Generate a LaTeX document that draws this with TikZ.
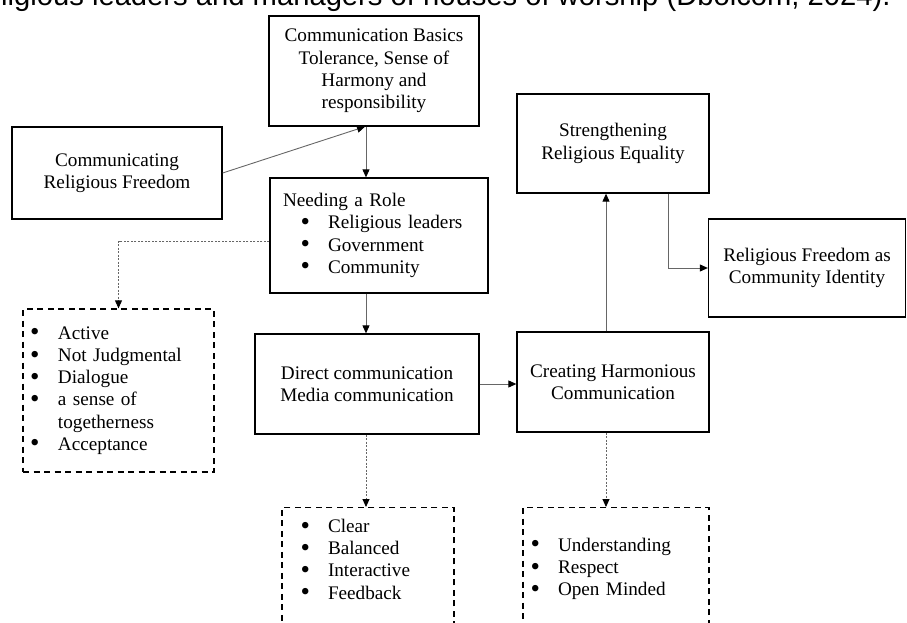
\documentclass[tikz,border=0pt]{standalone}
\usepackage{fontspec}
\usepackage{graphicx}
\setmainfont{Liberation Serif}
\newfontfamily\bodysans{Liberation Sans}
\usetikzlibrary{arrows.meta,calc}

\tikzset{
  box/.style={draw, line width=1.3pt, align=center, inner sep=0pt},
  listbox/.style={draw, line width=1.3pt, dash pattern=on 6pt off 4.5pt, align=left, inner ysep=11.5pt},
  link/.style={draw=black!60, line width=0.9pt, -{Triangle[length=8pt,width=7pt,color=black]}},
  dotlink/.style={link, dash pattern=on 2pt off 1.5pt},
}
\newcommand{\dotitem}[1]{\makebox[#1][l]{\smash{\raisebox{-1.6pt}{\scalebox{1.4}{\textbullet}}}}}

\begin{document}
\begin{tikzpicture}[x=1pt, y=-1pt, font=\fontsize{19.2}{22.2}\selectfont]
  \useasboundingbox (0,0) rectangle (907,623);
  \clip (0,0) rectangle (907,623);
  % ---- running text above the figure, cut by the page edge ----
  \node[font=\bodysans\fontsize{29.2}{34}\selectfont, anchor=base west, inner sep=0pt] (caption) at (1,6)
    {ligious leaders and managers of houses of worship (Dbolcom, 2024).};
  % ---- left column: basics, freedom, role ----
  \node[box, minimum width=210pt, minimum height=110pt] (basics) at (374,71)
    {Communication Basics\\Tolerance, Sense of\\Harmony and\\responsibility};
  \node[box, minimum width=210pt, minimum height=92pt] (freedom) at (117,173)
    {Communicating\\Religious Freedom};
  \node[box, align=left, text width=192pt, inner xsep=13pt, minimum height=115pt] (role) at (379,235.5)
    {Needing a Role\\
     \hspace*{17.6pt}\dotitem{27.4pt}Religious leaders\\
     \hspace*{17.6pt}\dotitem{27.4pt}Government\\
     \hspace*{17.6pt}\dotitem{27.4pt}Community};
  \node[box, minimum width=224pt, minimum height=100pt] (direct) at (367,384)
    {Direct communication\\Media communication};
  % ---- right column: harmony, equality, identity ----
  \node[box, minimum width=192pt, minimum height=100pt] (creating) at (613,382)
    {Creating Harmonious\\Communication};
  \node[box, minimum width=192pt, minimum height=99pt] (equality) at (613,143.5)
    {Strengthening\\Religious Equality};
  \node[box, minimum width=197pt, minimum height=98pt] (identity) at (807,268)
    {Religious Freedom as\\Community Identity};
  % ---- dashed lists ----
  \node[listbox, text width=177pt, inner xsep=7pt, minimum height=163pt] (inclusive) at (118.5,390.5)
    {\dotitem{28pt}Active\\
     \dotitem{28pt}Not Judgmental\\
     \dotitem{28pt}Dialogue\\
     \dotitem{28pt}a sense of\\
     \hspace*{28pt}togetherness\\
     \dotitem{28pt}Acceptance};
  \node[listbox, anchor=north, text width=134.8pt, inner xsep=18.6pt] (clarity) at (368,507)
    {\dotitem{27.4pt}Clear\\
     \dotitem{27.4pt}Balanced\\
     \dotitem{27.4pt}Interactive\\
     \dotitem{27.4pt}Feedback\\ \mbox{}\\ \mbox{}};
  \node[listbox, anchor=north, text width=170.8pt, inner xsep=7.6pt, inner ysep=30.4pt] (harmony) at (616,507)
    {\dotitem{27.4pt}Understanding\\
     \dotitem{27.4pt}Respect\\
     \dotitem{27.4pt}Open Minded\\ \mbox{}\\ \mbox{}};
  % ---- connectors ----
  \coordinate (spine) at (366,0);
  \coordinate (rise) at (606,0);
  \coordinate (drop) at (668,0);
  \draw[link] (freedom.east) -- ($(basics.south)+(-9,0)$);
  \draw[link] (basics.south -| spine) -- (role.north -| spine);
  \draw[link] (role.south -| spine) -- (direct.north -| spine);
  \draw[link] (direct.east) -- (direct.east -| creating.west);
  \draw[link] (creating.north -| rise) -- (equality.south -| rise);
  \draw[link] (equality.south -| drop) |- (identity.west);
  \draw[dotlink] ($(role.west)+(0,5.5)$) -| (inclusive.north);
  \draw[dotlink] (direct.south -| spine) -- (clarity.north -| spine);
  \draw[dotlink] (creating.south -| rise) -- (harmony.north -| rise);
\end{tikzpicture}
\end{document}
